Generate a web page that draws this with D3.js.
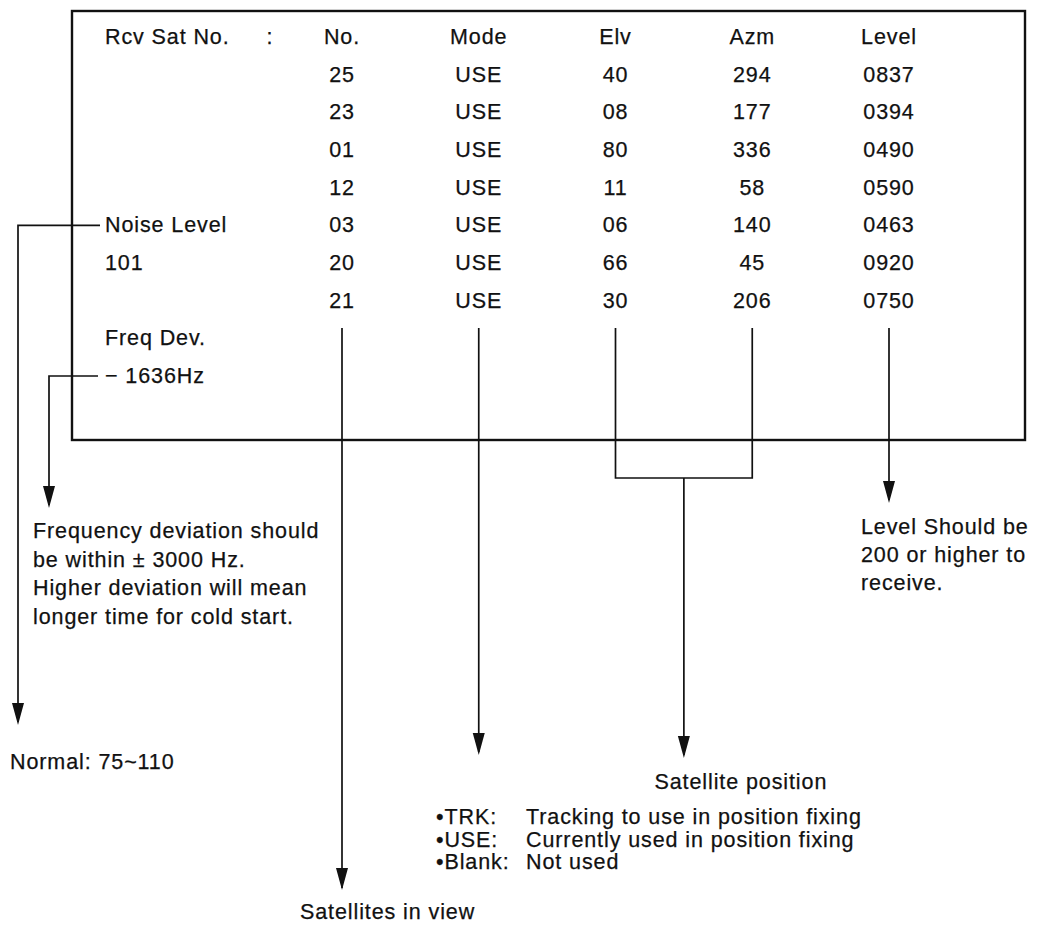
<!DOCTYPE html>
<html><head><meta charset="utf-8">
<script src="https://cdn.jsdelivr.net/npm/d3@7"></script>
<style>
html,body{margin:0;padding:0;background:#fff;}
svg text{font-family:"Liberation Sans",Arial,sans-serif;font-size:21.5px;fill:#111;stroke:#111;stroke-width:0.25px;letter-spacing:0.9px;}
</style></head>
<body><svg id="c" width="1042" height="929"></svg>
<script>
const columns = ["No.", "Mode", "Elv", "Azm", "Level"];
const satNo = ["25", "23", "01", "12", "03", "20", "21"];
const modes = ["USE", "USE", "USE", "USE", "USE", "USE", "USE"];
const elv = ["40", "08", "80", "11", "06", "66", "30"];
const azm = ["294", "177", "336", "58", "140", "45", "206"];
const level = ["0837", "0394", "0490", "0590", "0463", "0920", "0750"];
const leftLabels = [
  {row: 0, text: "Rcv Sat No."},
  {row: 5, text: "Noise Level"},
  {row: 6, text: "101"},
  {row: 8, text: "Freq Dev."},
  {row: 9, text: "\u2212 1636Hz"}
];
const freqNote = ["Frequency deviation should", "be within \u00b1 3000 Hz.", "Higher deviation will mean", "longer time for cold start."];
const levelNote = ["Level Should be", "200 or higher to", "receive."];
const modeNote = [["\u2022TRK:", "Tracking to use in position fixing"], ["\u2022USE:", "Currently used in position fixing"], ["\u2022Blank:", "Not used"]];

(function () {
const svg = d3.select("#c");
const x = d3.scalePoint().domain(columns).range([342, 889]);
const y = d3.scaleLinear().domain([0, 9]).range([37, 376]);

// frame
const box = {x0: 72, x1: 1025, y0: 11, y1: 440};
svg.append("rect").attr("x", box.x0).attr("y", box.y0).attr("width", box.x1 - box.x0).attr("height", box.y1 - box.y0)
  .attr("fill", "none").attr("stroke", "#111").attr("stroke-width", 2.4);

// header
const g = svg.append("g");
g.selectAll("text.h").data(columns).join("text").attr("class", "h")
  .attr("x", d => x(d)).attr("y", y(0)).attr("text-anchor", "middle").attr("dominant-baseline", "central").text(d => d);
g.append("text").attr("x", 270).attr("y", y(0)).attr("text-anchor", "middle").attr("dominant-baseline", "central").text(":");

const cols = [satNo, modes, elv, azm, level];
cols.forEach((arr, ci) => {
  g.selectAll("text.c" + ci).data(arr).join("text").attr("class", "c" + ci)
    .attr("x", x(columns[ci])).attr("y", (d, i) => y(i + 1))
    .attr("text-anchor", "middle").attr("dominant-baseline", "central").text(d => d);
});
g.selectAll("text.l").data(leftLabels).join("text").attr("class", "l")
  .attr("x", 105).attr("y", d => y(d.row)).attr("dominant-baseline", "central").text(d => d.text);

// leaders
const line = d3.line();
function path(pts, w) {
  svg.append("path").attr("d", line(pts)).attr("fill", "none").attr("stroke", "#111").attr("stroke-width", w || 1.7);
}
function arrow(xx, tip) {
  svg.append("path").attr("d", `M${xx - 6},${tip - 22}L${xx + 6},${tip - 22}L${xx},${tip}Z`).attr("fill", "#111");
}
const startY = 328;
// No.
path([[x("No."), startY], [x("No."), 888]]); arrow(x("No."), 890);
// Mode
path([[x("Mode"), startY], [x("Mode"), 752]]); arrow(x("Mode"), 755);
// Elv / Azm bracket
const bY = 478, mid = (x("Elv") + x("Azm")) / 2;
path([[x("Elv"), startY], [x("Elv"), bY], [x("Azm"), bY], [x("Azm"), startY]]);
path([[mid, bY], [mid, 755]]); arrow(mid, 758);
// Level
path([[x("Level"), startY], [x("Level"), 500]]); arrow(x("Level"), 503);
// Noise
path([[100, y(5)], [18, y(5)], [18, 722]]); arrow(18, 725);
// Freq
path([[98, y(9)], [49, y(9)], [49, 505]]); arrow(49, 508);

// notes
svg.selectAll("text.fn").data(freqNote).join("text").attr("class", "fn")
  .attr("x", 33).attr("y", (d, i) => 531 + i * 28.5).attr("dominant-baseline", "central").text(d => d);
svg.selectAll("text.ln").data(levelNote).join("text").attr("class", "ln")
  .attr("x", 861).attr("y", (d, i) => 527 + i * 28).attr("dominant-baseline", "central").text(d => d);
svg.append("text").attr("x", 10).attr("y", 762).attr("dominant-baseline", "central").text("Normal: 75~110");
svg.append("text").attr("x", mid + 57).attr("y", 782).attr("text-anchor", "middle").attr("dominant-baseline", "central").text("Satellite position");
const mn = svg.selectAll("g.mn").data(modeNote).join("g").attr("class", "mn")
  .attr("transform", (d, i) => `translate(0,${817 + i * 22.5})`);
mn.append("text").attr("x", 436).attr("dominant-baseline", "central").text(d => d[0]);
mn.append("text").attr("x", 526).attr("dominant-baseline", "central").text(d => d[1]);
svg.append("text").attr("x", 300).attr("y", 912).attr("dominant-baseline", "central").text("Satellites in view");
})();
</script></body></html>
